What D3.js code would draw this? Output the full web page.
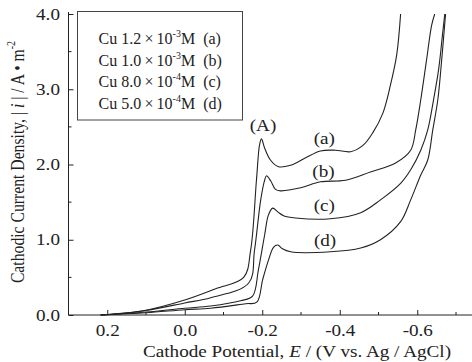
<!DOCTYPE html>
<html>
<head>
<meta charset="utf-8">
<script src="https://cdn.jsdelivr.net/npm/d3@7"></script>
<style>
  body { margin: 0; background: #fff; }
  svg text { font-family: "Liberation Serif", "Times New Roman", serif; fill: #222; }
</style>
</head>
<body>
<script>
// potentials (V vs Ag/AgCl) and current densities (A/m2)
const potA = [0.217, 0.114, 0.0, -0.08, -0.152, -0.17, -0.185, -0.193, -0.198, -0.206, -0.221, -0.242, -0.273, -0.312, -0.35, -0.389, -0.428, -0.459, -0.485, -0.511, -0.531, -0.547, -0.557];
const curA = [0.0, 0.05, 0.2, 0.35, 0.5, 0.86, 1.79, 2.26, 2.34, 2.22, 2.06, 1.97, 1.99, 2.09, 2.18, 2.19, 2.17, 2.25, 2.42, 2.68, 3.06, 3.46, 4.0];

const potB = [0.217, 0.1, 0.0, -0.067, -0.165, -0.18, -0.196, -0.206, -0.211, -0.222, -0.234, -0.247, -0.299, -0.35, -0.415, -0.479, -0.544, -0.583, -0.596, -0.609, -0.624, -0.637, -0.645];
const curB = [0.0, 0.06, 0.16, 0.23, 0.425, 0.86, 1.53, 1.79, 1.85, 1.78, 1.67, 1.65, 1.69, 1.77, 1.79, 1.9, 2.02, 2.19, 2.46, 2.86, 3.39, 3.85, 4.0];

const potC = [0.217, 0.1, 0.0, -0.067, -0.144, -0.175, -0.19, -0.206, -0.216, -0.227, -0.24, -0.255, -0.286, -0.376, -0.454, -0.505, -0.557, -0.583, -0.609, -0.627, -0.642, -0.655, -0.665, -0.671];
const curC = [0.0, 0.04, 0.09, 0.12, 0.19, 0.25, 0.6, 1.06, 1.33, 1.42, 1.37, 1.32, 1.29, 1.28, 1.36, 1.53, 1.75, 1.93, 2.19, 2.46, 2.86, 3.26, 3.72, 4.0];

const potD = [0.217, 0.1, 0.0, -0.067, -0.157, -0.186, -0.201, -0.216, -0.229, -0.24, -0.252, -0.273, -0.376, -0.454, -0.505, -0.557, -0.583, -0.609, -0.627, -0.64, -0.653, -0.663, -0.673];
const curD = [0.0, 0.03, 0.07, 0.09, 0.15, 0.17, 0.47, 0.73, 0.9, 0.93, 0.88, 0.84, 0.84, 0.89, 1.0, 1.24, 1.53, 1.86, 2.06, 2.46, 2.86, 3.39, 4.0];

const xTicks = [0.2, 0.0, -0.2, -0.4, -0.6];
const xMinor = [0.1, -0.1, -0.3, -0.5, -0.7];
const yTicks = [0, 1, 2, 3, 4];
const yMinor = [0.5, 1.5, 2.5, 3.5];

const legendLabels = [
  { mant: "1.2", exp: "-3", tag: "(a)" },
  { mant: "1.0", exp: "-3", tag: "(b)" },
  { mant: "8.0", exp: "-4", tag: "(c)" },
  { mant: "5.0", exp: "-4", tag: "(d)" }
];
const curveTags = [
  { text: "(a)", e: -0.36, i: 2.27 },
  { text: "(b)", e: -0.358, i: 1.84 },
  { text: "(c)", e: -0.36, i: 1.38 },
  { text: "(d)", e: -0.362, i: 0.92 }
];

const fs = "15.7px";      // font size
const sx = 1.22;          // the figure's lettering is drawn wide

const svg = d3.select("body").append("svg")
  .attr("width", 472)
  .attr("height", 362);

const x = d3.scaleLinear().domain([0.3, -0.75]).range([68.5, 475.4]);
const y = d3.scaleLinear().domain([0, 4]).range([315, 14]);

// clip curves at the top of the plot
svg.append("defs").append("clipPath").attr("id", "plotclip")
  .append("rect").attr("x", 68).attr("y", 14).attr("width", 410).attr("height", 302);

const line = d3.line()
  .x(d => x(d[0]))
  .y(d => y(d[1]))
  .curve(d3.curveCatmullRom.alpha(0.5));

const series = [[potA, curA], [potB, curB], [potC, curC], [potD, curD]];
svg.append("g").attr("clip-path", "url(#plotclip)")
  .selectAll("path")
  .data(series)
  .enter()
  .append("path")
    .attr("d", s => line(d3.zip(s[0], s[1])))
    .attr("fill", "none")
    .attr("stroke", "#222")
    .attr("stroke-width", 1.1);

// x axis
const xAxis = d3.axisBottom(x)
  .tickValues(xTicks)
  .tickSize(-5)
  .tickPadding(10)
  .tickFormat(d => d.toFixed(1));
const gx = svg.append("g").attr("transform", "translate(0,315)").call(xAxis);
gx.select(".domain").attr("d", "M68.5,0H472");
gx.selectAll(".tick line").attr("stroke", "#222");
gx.selectAll("text")
  .style("font-size", fs).style("font-family", "Liberation Serif")
  .attr("fill", "#333")
  .attr("transform", `scale(${sx},1)`);
gx.selectAll(".minor").data(xMinor).enter().append("line")
  .attr("x1", d => x(d)).attr("x2", d => x(d))
  .attr("y1", 0).attr("y2", -3)
  .attr("stroke", "#222");

// y axis
const yAxis = d3.axisLeft(y)
  .tickValues(yTicks)
  .tickSize(-5)
  .tickPadding(7)
  .tickFormat(d => d.toFixed(1));
const gy = svg.append("g").attr("transform", "translate(68.5,0)").call(yAxis);
gy.select(".domain").attr("d", "M0,12V315");
gy.selectAll(".tick line").attr("stroke", "#222");
gy.selectAll("text")
  .style("font-size", fs).style("font-family", "Liberation Serif")
  .attr("fill", "#333")
  .attr("transform", `scale(${sx},1)`);
gy.selectAll(".minor").data(yMinor).enter().append("line")
  .attr("x1", 0).attr("x2", 3)
  .attr("y1", d => y(d)).attr("y2", d => y(d))
  .attr("stroke", "#222");
svg.selectAll(".domain").attr("stroke", "#222");

// axis titles
const xt = svg.append("text")
  .attr("transform", `translate(297,357)scale(${sx},1)`)
  .attr("text-anchor", "middle")
  .style("font-size", fs);
xt.append("tspan").text("Cathode Potential, ");
xt.append("tspan").style("font-style", "italic").text("E");
xt.append("tspan").text(" / (V vs. Ag / AgCl)");

const yt = svg.append("text")
  .attr("transform", `translate(24,162)scale(${sx},1)rotate(-90)`)
  .attr("text-anchor", "middle")
  .style("font-size", fs);
yt.append("tspan").text("Cathodic Current Density, | ");
yt.append("tspan").style("font-style", "italic").text("i");
yt.append("tspan").text(" | / A \u2022 m");
yt.append("tspan").attr("dy", -7).style("font-size", "10px").text("-2");

// legend
svg.append("rect")
  .attr("x", 77.5)
  .attr("y", 11.5)
  .attr("width", 165)
  .attr("height", 108.5)
  .attr("fill", "white")
  .attr("stroke", "#444");

legendLabels.forEach((d, k) => {
  const t = svg.append("text")
    .attr("x", 98.5)
    .attr("y", 44 + k * 21.7)
    .style("font-size", "16px");
  t.append("tspan").text("Cu " + d.mant + "\u2009\u00d7\u200910");
  t.append("tspan").attr("dy", -7).style("font-size", "10px").text(d.exp);
  t.append("tspan").attr("dy", 7).text("M\u2002" + d.tag);
});

// peak and curve labels
svg.append("text")
  .attr("transform", `translate(263,131)scale(${sx},1)`)
  .attr("text-anchor", "middle")
  .style("font-size", fs)
  .text("(A)");

svg.selectAll(".ctag")
  .data(curveTags)
  .enter()
  .append("text")
    .attr("transform", d => `translate(${x(d.e)},${y(d.i)})scale(${sx},1)`)
    .attr("text-anchor", "middle")
    .style("font-size", fs)
    .text(d => d.text);
</script>
</body>
</html>
